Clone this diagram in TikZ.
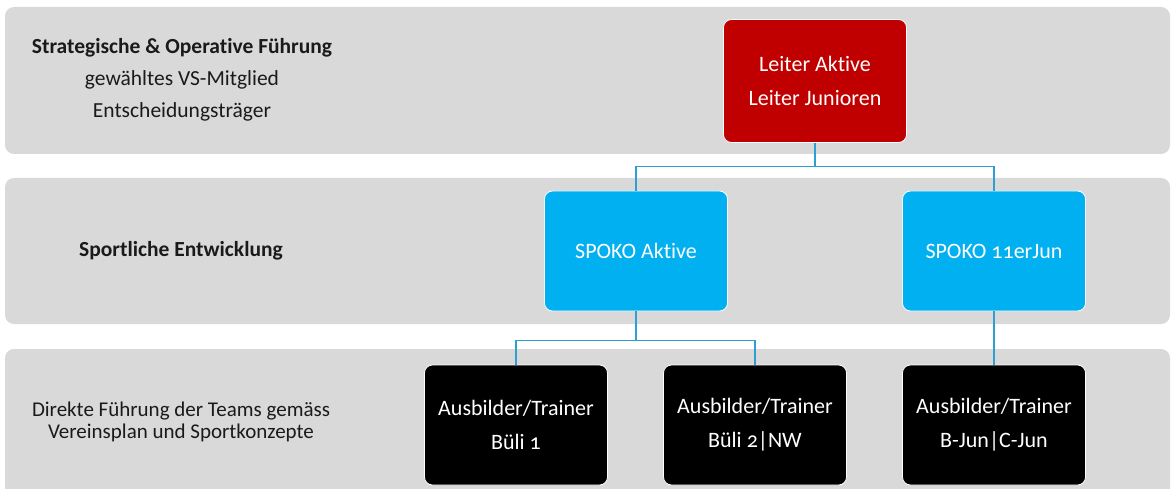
\documentclass[tikz,border=0pt]{standalone}
\usepackage{fontspec}
\setmainfont{Carlito}[Numbers=OldStyle, Ligatures=NoCommon]
\definecolor{band}{HTML}{D9D9D9}
\definecolor{leitred}{HTML}{C00000}
\definecolor{spokoblue}{HTML}{00B0F0}
\definecolor{linkblue}{HTML}{2E9FD4}
\definecolor{ink}{HTML}{1A1A1A}
\begin{document}
\begin{tikzpicture}[x=1pt, y=-1pt,
		box/.style={draw=white, thick, rounded corners=8pt, minimum width=183pt, minimum height=120pt, text=white, align=center, font=\fontsize{22}{34}\selectfont},
		link/.style={draw=linkblue, line width=1.2pt},
		lbl/.style={text=ink, align=center, font=\fontsize{21.5}{32}\selectfont}]
	\useasboundingbox (0,0) rectangle (1172,489);
	% bands
	\fill[band, rounded corners=9pt](5,7) rectangle (1170,154);
	\fill[band, rounded corners=9pt](5,178) rectangle (1170,324);
	\fill[band, rounded corners=9pt](5,349) rectangle (1170,510);
	% row labels
	\node[lbl] (strat) at (182,80) {\textbf{Strategische \& Operative Führung}\\gewähltes VS-Mitglied\\Entscheidungsträger};
	\node[lbl] (sport) at (181,251) {\textbf{Sportliche Entwicklung}};
	\node[lbl, font=\fontsize{21}{22}\selectfont] (direkt) at (181,422) {Direkte Führung der Teams gemäss\\Vereinsplan und Sportkonzepte};
	% boxes
	\node[box, fill=leitred, minimum height=123pt] (leiter) at (815,81) {Leiter Aktive\\Leiter Junioren};
	\node[box, fill=spokoblue] (aktive) at (636,251) {SPOKO Aktive};
	\node[box, fill=spokoblue] (junior) at (994,251) {SPOKO 11erJun};
	\node[box, fill=black] (bueli1) at (516,425) {Ausbilder/Trainer\\Büli 1};
	\node[box, fill=black] (bueli2) at (755,425) {Ausbilder/Trainer\\Büli 2|NW};
	\node[box, fill=black] (bcjun) at (994,425) {Ausbilder/Trainer\\B-Jun|C-Jun};
	% connectors
	\draw[link](leiter.south)--++(0,24) -| (aktive.north);
	\draw[link](leiter.south)--++(0,24) -| (junior.north);
	\draw[link](aktive.south)--++(0,29) -| (bueli1.north);
	\draw[link](aktive.south)--++(0,29) -| (bueli2.north);
	\draw[link](junior.south)--(bcjun.north);
\end{tikzpicture}
\end{document}
